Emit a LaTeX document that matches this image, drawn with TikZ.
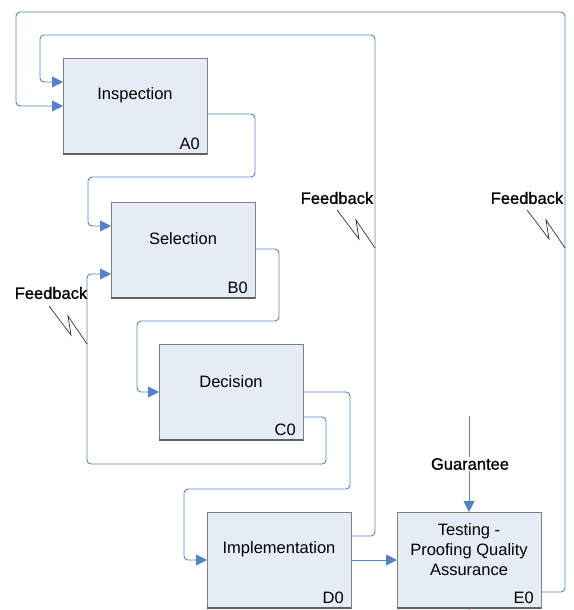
\documentclass[tikz,border=0pt]{standalone}
\usepackage{fontspec}
\setmainfont{Liberation Sans}
\newfontface\notefont{Liberation Sans}[FakeBold=0.9]
\usetikzlibrary{arrows.meta,calc}
\definecolor{flow}{RGB}{84,130,200}
\definecolor{boxfill}{RGB}{230,236,246}
\definecolor{boxline}{RGB}{128,128,128}
\definecolor{boxshade}{RGB}{96,96,96}
\begin{document}
\begin{tikzpicture}[x=1pt,y=-1pt,
  font=\fontsize{16.5}{20}\selectfont,
  activity/.style={draw=boxline, fill=boxfill, line width=0.6pt,
    minimum width=144pt, minimum height=96pt, inner sep=0pt, outer sep=0pt},
  flowline/.style={draw=flow, line width=0.9pt, rounded corners=4pt},
  flowin/.style={flowline, -{Triangle[length=11pt,width=11pt]}},
  squiggle/.style={draw=black!80, line width=0.7pt},
  tag/.style={inner sep=1pt, font=\notefont\fontsize{16.5}{20}\selectfont}]
\useasboundingbox (0,0) rectangle (573,610);

% activity boxes
\node[activity] (A) at (135,106) {};
\node[activity] (B) at (183,250) {};
\node[activity] (C) at (231,392) {};
\node[activity] (D) at (279,560) {};
\node[activity] (E) at (469,560) {};
\foreach \b in {A,B,C,D,E}
  \draw[boxshade, line width=1.6pt] (\b.south west) -- (\b.south east);

% box titles and numbers
\node (At) at ($(A.north)+(0,37)$) {Inspection};
\node (Bt) at ($(B.north)+(0,37)$) {Selection};
\node (Ct) at ($(C.north)+(0,38)$) {Decision};
\node (Dt) at ($(D.north)+(0,37)$) {Implementation};
\node[align=center] (Et) at ($(E.north)+(0,38)$) {Testing -\\Proofing Quality\\Assurance};
\foreach \b/\n in {A/A0,B/B0,C/C0,D/D0,E/E0}
  \node[anchor=base east, inner sep=0pt] (\b n) at ($(\b.south east)+(-7,-5)$) {\n};

% forward flow
\draw[flowin] ($(A.north east)+(0,56)$) -- (255,114) -- (255,177) -- (88,177) -- (88,226) -- ($(B.north west)+(0,24)$);
\draw[flowin] ($(B.east)+(0,-1)$) -- (279,249) -- (279,321) -- (137,321) -- (137,392) -- (C.west);
\draw[flowin] (C.east) -- (350,392) -- (350,489) -- (184,489) -- (184,560) -- (D.west);
\draw[flowin] (D.east) -- (E.west);

% feedback loops
\draw[flowin] ($(C.south east)+(0,-23)$) -- (326,417) -- (326,464) -- (87,464) -- (87,274) -- ($(B.north west)+(0,72)$);
\draw[flowin] ($(D.north east)+(0,24)$) -- (375,536) -- (375,35) -- (40,35) -- (40,82) -- ($(A.north west)+(0,24)$);
\draw[flowin] ($(E.south east)+(0,-16)$) -- (565,592) -- (565,12) -- (16,12) -- (16,106) -- (A.west);

% control into the test box
\coordinate (G) at (469,416);
\draw[flowin] (G) -- (E.north);
\node[fill=white, tag] (Gt) at (470,464) {Guarantee};
\draw[flowline] (E.south) -- ++(0,4);

% feedback labels with squiggles
\node[tag] (F1) at (337,198) {Feedback};
\node[tag] (F2) at (527,198) {Feedback};
\node[tag] (F3) at (51,293) {Feedback};
\foreach \f/\x/\y in {F1/375/248, F2/565/248, F3/87/344}
  \draw[squiggle] (\x-38,\y-38) -- (\x-16,\y-9) -- (\x-19,\y-28) -- (\x,\y);
\end{tikzpicture}
\end{document}
